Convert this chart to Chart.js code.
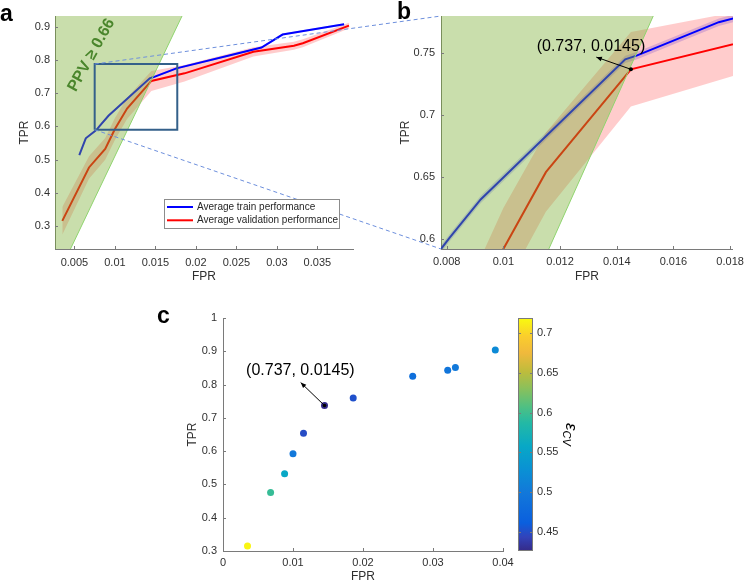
<!DOCTYPE html>
<html>
<head>
<meta charset="utf-8">
<script src="https://cdn.jsdelivr.net/npm/chart.js@4.4.1/dist/chart.umd.min.js"></script>
<style>
  body { margin: 0; background: #fff; }
  #wrap { position: relative; width: 750px; height: 583px; overflow: hidden; }
  #wrap canvas { position: absolute; }
</style>
</head>
<body>
<div id="wrap">
  <canvas id="chartA" width="750" height="290" style="left:0;top:0"></canvas>
  <canvas id="chartB" width="375" height="290" style="left:375px;top:0"></canvas>
  <canvas id="chartC" width="375" height="290" style="left:150px;top:293px"></canvas>
  <canvas id="colorbar" width="100" height="290" style="left:505px;top:293px"></canvas>
</div>
<script>
// validation performance per model (also the scatter of panel c)
const valFpr = [0.0035, 0.0068, 0.0088, 0.0100, 0.0115, 0.0145, 0.0186, 0.0271, 0.0321, 0.0332, 0.0389]
const valTpr = [0.315, 0.476, 0.532, 0.592, 0.654, 0.737, 0.760, 0.825, 0.843, 0.851, 0.904]
const valStd = [0.042, 0.034, 0.033, 0.033, 0.032, 0.030, 0.025, 0.014, 0.012, 0.012, 0.009]
const ecv    = [0.716, 0.596, 0.558, 0.499, 0.449, 0.427, 0.452, 0.485, 0.495, 0.500, 0.520]

// train performance
const trainFpr = [0.0056, 0.0064, 0.0077, 0.0081, 0.0092, 0.0143, 0.0147, 0.0176, 0.0246, 0.0281, 0.0307, 0.0383]
const trainTpr = [0.513, 0.564, 0.589, 0.601, 0.632, 0.745, 0.748, 0.775, 0.817, 0.838, 0.877, 0.908]
const trainStd = [0.003, 0.003, 0.003, 0.003, 0.003, 0.003, 0.003, 0.003, 0.003, 0.003, 0.003, 0.003]

// PPV >= 0.66 boundary (line through origin)
const ppvFpr = [0, 0.0196]
const ppvTpr = [0, 1.0]

// zoom box drawn in panel a
const zoomBoxFpr = [0.0075, 0.0177]
const zoomBoxTpr = [0.59, 0.788]

// selected model
const pickFpr = [0.0145]
const pickTpr = [0.737]
const pickLabel = '(0.737, 0.0145)'

// tick labels
const ticksAx = [0.005, 0.01, 0.015, 0.02, 0.025, 0.03, 0.035]
const ticksAy = [0.3, 0.4, 0.5, 0.6, 0.7, 0.8, 0.9]
const ticksBx = [0.008, 0.01, 0.012, 0.014, 0.016, 0.018]
const ticksBy = [0.6, 0.65, 0.7, 0.75]
const ticksCx = [0, 0.01, 0.02, 0.03, 0.04]
const ticksCy = [0.3, 0.4, 0.5, 0.6, 0.7, 0.8, 0.9, 1]
const ticksCb = [0.45, 0.5, 0.55, 0.6, 0.65, 0.7]

// parula colour map stops
const parulaStops = [
    [0.00, 53, 42, 135],
    [0.06, 50, 67, 186],
    [0.12, 10, 95, 222],
    [0.25, 18, 120, 218],
    [0.35, 10, 145, 212],
    [0.45, 8, 168, 198],
    [0.55, 35, 185, 165],
    [0.62, 80, 192, 130],
    [0.70, 140, 192, 90],
    [0.77, 190, 188, 60],
    [0.85, 240, 185, 60],
    [0.92, 250, 205, 45],
    [1.00, 249, 251, 14]
]
const cbMin = 0.426
const cbMax = 0.719

const axisColor = '#7a7a7a'
const textColor = '#303030'
const FONT = '"Liberation Sans", Arial, Helvetica, sans-serif'

Chart.defaults.font.family = FONT
Chart.defaults.font.size = 11
Chart.defaults.color = textColor
Chart.defaults.animation = false
Chart.defaults.plugins.legend.display = false
Chart.defaults.plugins.tooltip.enabled = false
Chart.defaults.elements.point.radius = 0
Chart.defaults.elements.line.tension = 0

const pts = (xs, ys) => xs.map((x, i) => ({ x, y: ys[i] }))
const band = (xs, ys, err, sign) => xs.map((x, i) => ({ x, y: ys[i] + sign * err[i] }))

function parula(t) {
    t = Math.max(0, Math.min(1, t))
    for (let i = 1; i < parulaStops.length; i++) {
        const a = parulaStops[i - 1], b = parulaStops[i]
        if (t <= b[0]) {
            const f = (t - a[0]) / (b[0] - a[0])
            const c = [1, 2, 3].map(k => Math.round(a[k] + f * (b[k] - a[k])))
            return `rgb(${c[0]},${c[1]},${c[2]})`
        }
    }
    return 'rgb(249,251,14)'
}

function makeAxis(horizontal, min, max, tickValues, title, size, labelPad) {
    return {
        type: 'linear',
        min: min,
        max: max,
        afterBuildTicks: s => { s.ticks = tickValues.map(v => ({ value: v })) },
        afterFit: s => { if (horizontal) s.height = size; else s.width = size },
        grid: { display: false, drawTicks: false },
        border: { display: true, color: axisColor, width: 1 },
        ticks: { callback: v => String(v), padding: labelPad, autoSkip: false, maxRotation: 0, color: textColor },
        title: { display: true, text: title, color: textColor, padding: 0, font: { size: 12, lineHeight: 1 } }
    }
}

function arrow(ctx, x1, y1, x2, y2) {
    const ang = Math.atan2(y2 - y1, x2 - x1)
    ctx.beginPath()
    ctx.moveTo(x1, y1)
    ctx.lineTo(x2, y2)
    ctx.stroke()
    ctx.beginPath()
    ctx.moveTo(x2, y2)
    ctx.lineTo(x2 - 6 * Math.cos(ang - 0.4), y2 - 6 * Math.sin(ang - 0.4))
    ctx.lineTo(x2 - 6 * Math.cos(ang + 0.4), y2 - 6 * Math.sin(ang + 0.4))
    ctx.closePath()
    ctx.fill()
}

// small tick marks pointing into the plot
const inwardTicks = {
    id: 'inwardTicks',
    afterDatasetsDraw(chart) {
        const { ctx, chartArea: a, scales: { x, y } } = chart
        ctx.save()
        ctx.strokeStyle = axisColor
        ctx.lineWidth = 1
        x.ticks.forEach(t => {
            const p = Math.round(x.getPixelForValue(t.value)) + 0.5
            ctx.beginPath(); ctx.moveTo(p, a.bottom); ctx.lineTo(p, a.bottom - 3); ctx.stroke()
        })
        y.ticks.forEach(t => {
            const p = Math.round(y.getPixelForValue(t.value)) + 0.5
            ctx.beginPath(); ctx.moveTo(a.left, p); ctx.lineTo(a.left + 3, p); ctx.stroke()
        })
        ctx.restore()
    }
}

const panelLetter = {
    id: 'panelLetter',
    afterDraw(chart, args, opts) {
        const ctx = chart.ctx
        ctx.save()
        ctx.fillStyle = '#000'
        ctx.font = 'bold 23px ' + FONT
        ctx.textBaseline = 'alphabetic'
        ctx.fillText(opts.text, opts.x, opts.y)
        ctx.restore()
    }
}

const pickNote = {
    id: 'pickNote',
    afterDatasetsDraw(chart, args, opts) {
        if (!opts.arrowTo) return
        const { ctx, scales: { x, y } } = chart
        ctx.save()
        ctx.strokeStyle = '#000'
        ctx.fillStyle = '#000'
        ctx.lineWidth = 1
        arrow(ctx, x.getPixelForValue(pickFpr[0]), y.getPixelForValue(pickTpr[0]),
            x.getPixelForValue(opts.arrowTo[0]), y.getPixelForValue(opts.arrowTo[1]))
        ctx.font = '16px ' + FONT
        ctx.textAlign = 'center'
        ctx.textBaseline = 'middle'
        ctx.fillText(pickLabel, x.getPixelForValue(opts.textAt[0]), y.getPixelForValue(opts.textAt[1]))
        ctx.restore()
    }
}

// PPV label, dashed connectors to panel b, legend
const panelADecor = {
    id: 'panelADecor',
    afterDatasetsDraw(chart) {
        const { ctx, scales: { x, y } } = chart
        ctx.save()
        ctx.translate(x.getPixelForValue(0.0071), y.getPixelForValue(0.815))
        ctx.rotate(-61 * Math.PI / 180)
        ctx.fillStyle = '#4a862c'
        ctx.font = 'bold 16px ' + FONT
        ctx.textAlign = 'center'
        ctx.textBaseline = 'middle'
        ctx.fillText('PPV \u2265 0.66', 0, 0)
        ctx.restore()

        if (typeof chartB === 'undefined') return
        const dx = chartB.canvas.offsetLeft - chart.canvas.offsetLeft
        const dy = chartB.canvas.offsetTop - chart.canvas.offsetTop
        const b = chartB.chartArea
        const from = [[zoomBoxFpr[0], zoomBoxTpr[1]], [zoomBoxFpr[0], zoomBoxTpr[0]]]
        const to = [[b.left + dx, b.top + dy], [b.left + dx, b.bottom + dy]]
        ctx.save()
        ctx.strokeStyle = '#6d8fdc'
        ctx.lineWidth = 1
        ctx.setLineDash([4, 3])
        from.forEach((f, i) => {
            ctx.beginPath()
            ctx.moveTo(x.getPixelForValue(f[0]), y.getPixelForValue(f[1]))
            ctx.lineTo(to[i][0], to[i][1])
            ctx.stroke()
        })
        ctx.restore()
    },
    afterDraw(chart) {
        const { ctx, chartArea: a } = chart
        const left = a.right - 189, top = a.bottom - 50, w = 175, h = 29
        ctx.save()
        ctx.fillStyle = '#fff'
        ctx.fillRect(left, top, w, h)
        ctx.strokeStyle = '#8c8c8c'
        ctx.lineWidth = 1
        ctx.strokeRect(left + 0.5, top + 0.5, w, h)
        chart.data.datasets.filter(d => d.inLegend).forEach((d, i) => {
            const yy = top + 8 + i * 13.3
            ctx.strokeStyle = d.borderColor
            ctx.lineWidth = 2
            ctx.beginPath(); ctx.moveTo(left + 3, yy); ctx.lineTo(left + 29, yy); ctx.stroke()
            ctx.fillStyle = '#262626'
            ctx.font = '10px ' + FONT
            ctx.textBaseline = 'middle'
            ctx.fillText(d.label, left + 33, yy)
        })
        ctx.restore()
    }
}

function curveDatasets() {
    return [
        { label: 'ppv', data: pts(ppvFpr, ppvTpr), fill: 'end', backgroundColor: 'rgba(119,172,48,0.4)',
          borderColor: '#8fd46e', borderWidth: 1, order: 0 },
        { label: 'Average train performance', inLegend: true, data: pts(trainFpr, trainTpr),
          borderColor: '#0000ff', borderWidth: 2, fill: false, order: 2 },
        { label: 'Average validation performance', inLegend: true, data: pts(valFpr, valTpr),
          borderColor: '#ff0000', borderWidth: 2, fill: false, order: 1 },
        { label: 'train upper', data: band(trainFpr, trainTpr, trainStd, 1), fill: '+1',
          backgroundColor: 'rgba(0,0,255,0.18)', borderColor: 'transparent', borderWidth: 0, order: 4 },
        { label: 'train lower', data: band(trainFpr, trainTpr, trainStd, -1), fill: false,
          borderColor: 'transparent', borderWidth: 0, order: 4 },
        { label: 'val upper', data: band(valFpr, valTpr, valStd, 1), fill: '+1',
          backgroundColor: 'rgba(255,0,0,0.2)', borderColor: 'transparent', borderWidth: 0, order: 3 },
        { label: 'val lower', data: band(valFpr, valTpr, valStd, -1), fill: false,
          borderColor: 'transparent', borderWidth: 0, order: 3 }
    ]
}

// panel b (zoom)
const chartB = new Chart(document.getElementById('chartB'), {
    type: 'line',
    data: {
        datasets: curveDatasets().concat([
            { label: 'pick', data: pts(pickFpr, pickTpr), showLine: false, pointRadius: 2,
              pointBackgroundColor: '#000', pointBorderWidth: 0, order: -2 }
        ])
    },
    options: {
        responsive: false,
        layout: { padding: { left: 25, top: 16, right: 12, bottom: 7 } },
        scales: {
            x: makeAxis(true, 0.0078, 0.0181, ticksBx, 'FPR', 34, 6),
            y: makeAxis(false, 0.592, 0.780, ticksBy, 'TPR', 41, 6)
        },
        plugins: {
            pickNote: { arrowTo: [0.01328, 0.7468], textAt: [0.01309, 0.7553] },
            panelLetter: { text: 'b', x: 22, y: 19 }
        }
    },
    plugins: [inwardTicks, pickNote, panelLetter]
})

// panel a (overview)
new Chart(document.getElementById('chartA'), {
    type: 'line',
    data: {
        datasets: curveDatasets().concat([
            { label: 'zoom box', borderColor: '#34608a', borderWidth: 2, fill: false, order: -1,
              data: pts([zoomBoxFpr[0], zoomBoxFpr[1], zoomBoxFpr[1], zoomBoxFpr[0], zoomBoxFpr[0]],
                        [zoomBoxTpr[0], zoomBoxTpr[0], zoomBoxTpr[1], zoomBoxTpr[1], zoomBoxTpr[0]]) }
        ])
    },
    options: {
        responsive: false,
        layout: { padding: { left: 19, top: 16, right: 397, bottom: 7 } },
        scales: {
            x: makeAxis(true, 0.0026, 0.0394, ticksAx, 'FPR', 34, 7),
            y: makeAxis(false, 0.23, 0.933, ticksAy, 'TPR', 36, 5)
        },
        plugins: {
            panelLetter: { text: 'a', x: 0, y: 21 }
        }
    },
    plugins: [inwardTicks, panelADecor, panelLetter]
})

// panel c (scatter coloured by eps_CV)
new Chart(document.getElementById('chartC'), {
    type: 'scatter',
    data: {
        datasets: [
            { label: 'pick', data: pts(pickFpr, pickTpr), pointRadius: 1.8,
              pointBackgroundColor: '#000', pointBorderWidth: 0, order: -1 },
            { label: 'models', data: pts(valFpr, valTpr), pointRadius: 3.5, pointBorderWidth: 0,
              pointBackgroundColor: ecv.map(v => parula((v - cbMin) / (cbMax - cbMin))), order: 1 }
        ]
    },
    options: {
        responsive: false,
        layout: { padding: { left: 37, top: 25, right: 22, bottom: 0 } },
        scales: {
            x: makeAxis(true, 0, 0.04, ticksCx, 'FPR', 32, 5),
            y: makeAxis(false, 0.3, 1, ticksCy, 'TPR', 36, 6)
        },
        plugins: {
            pickNote: { arrowTo: [0.0111, 0.806], textAt: [0.01105, 0.843] },
            panelLetter: { text: 'c', x: 7, y: 30 }
        }
    },
    plugins: [inwardTicks, pickNote, panelLetter]
})

// colour bar
const colorbarFill = {
    id: 'colorbarFill',
    beforeDatasetsDraw(chart) {
        const { ctx, chartArea: a } = chart
        const s = chart.scales.y
        const g = ctx.createLinearGradient(0, a.bottom, 0, a.top)
        parulaStops.forEach(st => g.addColorStop(st[0], `rgb(${st[1]},${st[2]},${st[3]})`))
        ctx.save()
        ctx.fillStyle = g
        ctx.fillRect(a.left, a.top, a.right - a.left, a.bottom - a.top)
        ctx.strokeStyle = axisColor
        ctx.lineWidth = 1
        ctx.strokeRect(a.left + 0.5, a.top + 0.5, a.right - a.left - 1, a.bottom - a.top - 1)
        s.ticks.forEach(t => {
            const p = Math.round(s.getPixelForValue(t.value)) + 0.5
            ctx.beginPath(); ctx.moveTo(a.right, p); ctx.lineTo(a.right - 3, p); ctx.stroke()
            ctx.beginPath(); ctx.moveTo(a.left, p); ctx.lineTo(a.left + 3, p); ctx.stroke()
        })
        // eps_CV label
        ctx.translate(a.right + 38, (a.top + a.bottom) / 2)
        ctx.rotate(Math.PI / 2)
        ctx.fillStyle = '#000'
        ctx.textBaseline = 'middle'
        ctx.font = 'italic 17px ' + FONT
        const w1 = ctx.measureText('\u03b5').width
        ctx.font = 'italic 11px ' + FONT
        const w2 = ctx.measureText('CV').width
        const x0 = -(w1 + w2) / 2
        ctx.font = 'italic 17px ' + FONT
        ctx.fillText('\u03b5', x0, 0)
        ctx.font = 'italic 11px ' + FONT
        ctx.fillText('CV', x0 + w1, 5)
        ctx.restore()
    }
}

new Chart(document.getElementById('colorbar'), {
    type: 'scatter',
    data: { datasets: [] },
    options: {
        responsive: false,
        layout: { padding: { left: 13, top: 25, right: 22, bottom: 32 } },
        scales: {
            x: { type: 'linear', display: false },
            y: {
                type: 'linear', position: 'right', min: cbMin, max: cbMax,
                afterBuildTicks: s => { s.ticks = ticksCb.map(v => ({ value: v })) },
                afterFit: s => { s.width = 50 },
                grid: { display: false, drawTicks: false },
                border: { display: false },
                ticks: { callback: v => String(v), padding: 4, color: textColor, autoSkip: false }
            }
        }
    },
    plugins: [colorbarFill]
})
</script>
</body>
</html>
